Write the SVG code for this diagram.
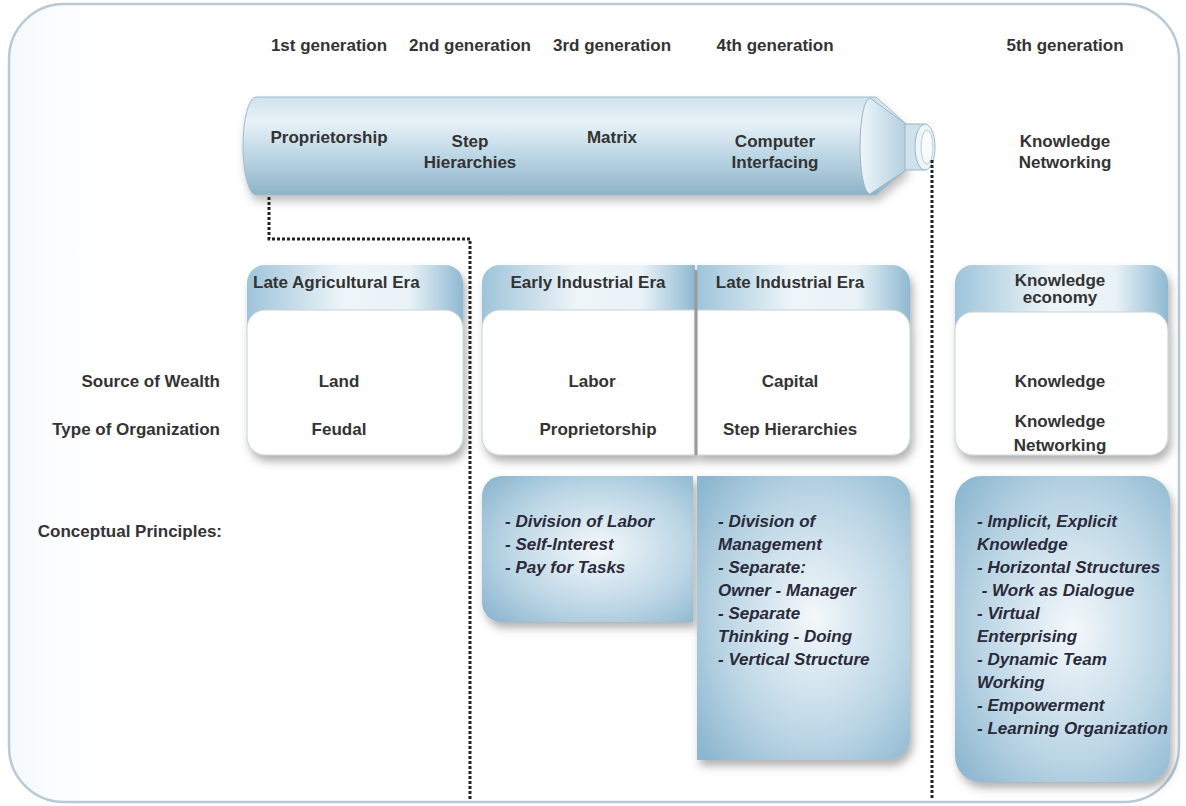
<svg xmlns="http://www.w3.org/2000/svg" width="1186" height="806" viewBox="0 0 1186 806">
<defs>
<style>
text{font-family:"Liberation Sans",Arial,sans-serif;font-weight:bold;font-size:17px;fill:#333}
.c{text-anchor:middle}
.r{text-anchor:end}
.i{font-style:italic;fill:#2a2a3a}
.dot{fill:none;stroke:#222;stroke-width:3;stroke-dasharray:3 2}
</style>
<linearGradient id="cyl" x1="0" y1="0" x2="0" y2="1">
<stop offset="0" stop-color="#cfe2ec"/>
<stop offset="0.25" stop-color="#e8f2f7"/>
<stop offset="0.6" stop-color="#bcd6e4"/>
<stop offset="1" stop-color="#8db3c8"/>
</linearGradient>
<linearGradient id="cone" x1="0" y1="0" x2="1" y2="0">
<stop offset="0" stop-color="#eef5f9"/>
<stop offset="1" stop-color="#b3cfde"/>
</linearGradient>
<linearGradient id="hdr" x1="0" y1="0" x2="1" y2="0">
<stop offset="0" stop-color="#9ec4da"/>
<stop offset="0.45" stop-color="#eef5f9"/>
<stop offset="0.75" stop-color="#e9f2f7"/>
<stop offset="1" stop-color="#8fb9d2"/>
</linearGradient>
<radialGradient id="pr" cx="0.55" cy="0.5" r="0.7">
<stop offset="0" stop-color="#f4f8fb"/>
<stop offset="0.6" stop-color="#bcd6e5"/>
<stop offset="1" stop-color="#8db7d0"/>
</radialGradient>
<linearGradient id="frame" x1="0" y1="0" x2="1" y2="0">
<stop offset="0" stop-color="#f5f9fc"/>
<stop offset="0.08" stop-color="#ffffff"/>
</linearGradient>
<filter id="sh" x="-10%" y="-10%" width="130%" height="130%">
<feDropShadow dx="3" dy="6" stdDeviation="4" flood-color="#555" flood-opacity="0.45"/>
</filter>
<filter id="shc" x="-5%" y="-20%" width="115%" height="150%">
<feDropShadow dx="2" dy="6" stdDeviation="4" flood-color="#666" flood-opacity="0.4"/>
</filter>
</defs>

<rect x="9" y="4" width="1170" height="798" rx="55" fill="url(#frame)" stroke="#b9c9d5" stroke-width="2.5"/>

<g id="generations">
<text class="c" x="329" y="51">1st generation</text>
<text class="c" x="470" y="51">2nd generation</text>
<text class="c" x="612" y="51">3rd generation</text>
<text class="c" x="775" y="51">4th generation</text>
<text class="c" x="1065" y="51">5th generation</text>
</g>

<g id="cylinder">
<g filter="url(#shc)">
<path d="M256,97 H876 L906,124 V170 L876,195 H256 A13,49 0 0 1 256,97 Z" fill="url(#cyl)" stroke="#9fbccc" stroke-width="1"/>
</g>
<path d="M870,98 L906,124 V170 L870,194 A10,48 0 0 1 870,98 Z" fill="url(#cone)" stroke="#9ab6c6" stroke-width="1"/>
<rect x="905" y="124" width="20" height="46" fill="#cfe1ea" stroke="#9ab6c6" stroke-width="1"/>
<ellipse cx="925" cy="147" rx="10" ry="23" fill="#eef5f9" stroke="#9ab6c6" stroke-width="1"/>
<ellipse cx="927" cy="147" rx="6" ry="17" fill="#f8fbfd" stroke="#b7ccd8" stroke-width="1"/>
<text class="c" x="329" y="143">Proprietorship</text>
<text class="c" x="470" y="147">Step</text>
<text class="c" x="470" y="168">Hierarchies</text>
<text class="c" x="612" y="143">Matrix</text>
<text class="c" x="775" y="147">Computer</text>
<text class="c" x="775" y="168">Interfacing</text>
</g>

<g id="gen5">
<text class="c" x="1065" y="147">Knowledge</text>
<text class="c" x="1065" y="168">Networking</text>
</g>

<g id="connectors">
<path class="dot" d="M269,197 V239 H470 V800"/>
<path class="dot" d="M932,160 V800"/>
</g>

<g id="row-labels">
<text class="r" x="220" y="387">Source of Wealth</text>
<text class="r" x="220" y="435">Type of Organization</text>
<text class="r" x="222" y="537">Conceptual Principles:</text>
</g>

<g id="late-agricultural">
<g filter="url(#sh)">
<rect x="247" y="265" width="216" height="190" rx="18" fill="url(#hdr)"/>
<rect x="247" y="310" width="216" height="145" rx="18" fill="#fff" stroke="#c8d2d8" stroke-width="1"/>
</g>
<text x="253" y="288">Late Agricultural Era</text>
<text class="c" x="339" y="387">Land</text>
<text class="c" x="339" y="435">Feudal</text>
</g>

<g id="early-industrial">
<g filter="url(#sh)">
<path d="M500,265 H695 V455 H500 A18,18 0 0 1 482,437 V283 A18,18 0 0 1 500,265 Z" fill="url(#hdr)"/>
<path d="M500,310 H695 V455 H500 A18,18 0 0 1 482,437 V328 A18,18 0 0 1 500,310 Z" fill="#fff" stroke="#c8d2d8" stroke-width="1"/>
</g>
<text class="c" x="588" y="288">Early Industrial Era</text>
<text class="c" x="592" y="387">Labor</text>
<text class="c" x="598" y="435">Proprietorship</text>
</g>

<g id="late-industrial">
<g filter="url(#sh)">
<path d="M697,265 H892 A18,18 0 0 1 910,283 V437 A18,18 0 0 1 892,455 H697 Z" fill="url(#hdr)"/>
<path d="M697,310 H892 A18,18 0 0 1 910,328 V437 A18,18 0 0 1 892,455 H697 Z" fill="#fff" stroke="#c8d2d8" stroke-width="1"/>
</g>
<line x1="696" y1="270" x2="696" y2="455" stroke="#9a9a9a" stroke-width="3"/>
<text class="c" x="790" y="288">Late Industrial Era</text>
<text class="c" x="790" y="387">Capital</text>
<text class="c" x="790" y="435">Step Hierarchies</text>
</g>

<g id="knowledge-economy">
<g filter="url(#sh)">
<rect x="955" y="265" width="213" height="190" rx="18" fill="url(#hdr)"/>
<rect x="955" y="312" width="213" height="143" rx="18" fill="#fff" stroke="#c8d2d8" stroke-width="1"/>
</g>
<text class="c" x="1060" y="286">Knowledge</text>
<text class="c" x="1060" y="303">economy</text>
<text class="c" x="1060" y="387">Knowledge</text>
<text class="c" x="1060" y="427">Knowledge</text>
<text class="c" x="1060" y="451">Networking</text>
</g>

<g id="principles-early">
<path d="M502,476 H693 V622 H502 A20,20 0 0 1 482,602 V496 A20,20 0 0 1 502,476 Z" fill="url(#pr)" filter="url(#sh)"/>
<text class="i" x="505" y="527">- Division of Labor</text>
<text class="i" x="505" y="550">- Self-Interest</text>
<text class="i" x="505" y="573">- Pay for Tasks</text>
</g>

<g id="principles-late">
<path d="M697,476 H888 A22,22 0 0 1 910,498 V738 A22,22 0 0 1 888,760 H697 Z" fill="url(#pr)" filter="url(#sh)"/>
<text class="i" x="718" y="527">- Division of</text>
<text class="i" x="718" y="550">Management</text>
<text class="i" x="718" y="573">- Separate:</text>
<text class="i" x="718" y="596">Owner - Manager</text>
<text class="i" x="718" y="619">- Separate</text>
<text class="i" x="718" y="642">Thinking - Doing</text>
<text class="i" x="718" y="665">- Vertical Structure</text>
</g>

<g id="principles-knowledge">
<rect x="955" y="476" width="215" height="306" rx="26" fill="url(#pr)" filter="url(#sh)"/>
<text class="i" x="977" y="527">- Implicit, Explicit</text>
<text class="i" x="977" y="550">Knowledge</text>
<text class="i" x="977" y="573">- Horizontal Structures</text>
<text class="i" x="977" y="596" xml:space="preserve"> - Work as Dialogue</text>
<text class="i" x="977" y="619">- Virtual</text>
<text class="i" x="977" y="642">Enterprising</text>
<text class="i" x="977" y="665">- Dynamic Team</text>
<text class="i" x="977" y="688">Working</text>
<text class="i" x="977" y="711">- Empowerment</text>
<text class="i" x="977" y="734">- Learning Organization</text>
</g>
</svg>
